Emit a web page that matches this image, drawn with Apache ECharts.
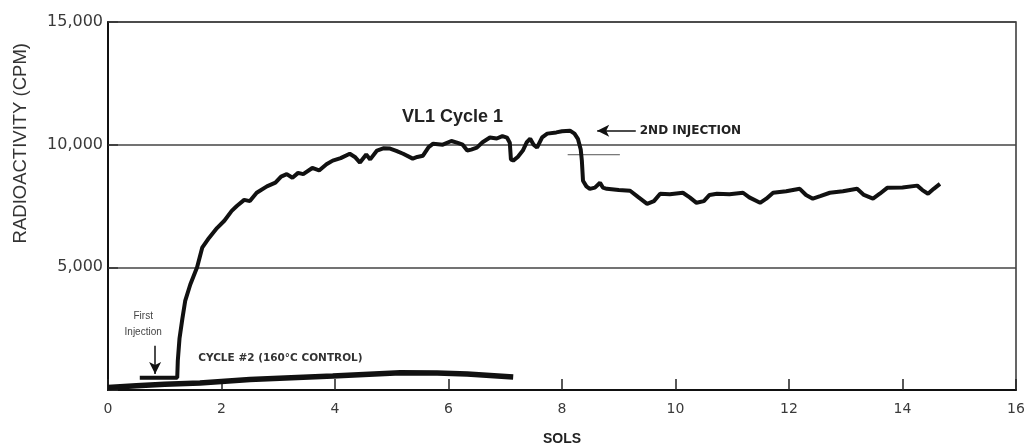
<!DOCTYPE html>
<html>
<head>
<meta charset="utf-8">
<script src="https://cdn.jsdelivr.net/npm/echarts@6/dist/echarts.min.js"></script>
<style>html,body{margin:0;padding:0;background:#fff}#c{width:1031px;height:446px}</style>
</head>
<body>
<div id="c"></div>
<script>
// ---- data (sols, counts per minute) ----
const cycle1Sols = [0.56,1.22,1.23,1.26,1.31,1.36,1.45,1.57,1.66,1.78,1.92,2.05,2.18,2.27,2.4,2.5,2.62,2.8,2.95,3.05,3.15,3.25,3.35,3.44,3.6,3.72,3.85,3.96,4.1,4.26,4.35,4.44,4.55,4.62,4.74,4.85,4.97,5.08,5.2,5.37,5.45,5.55,5.65,5.73,5.9,6.05,6.15,6.25,6.33,6.4,6.5,6.6,6.73,6.85,6.95,7.03,7.08,7.1,7.14,7.22,7.31,7.38,7.44,7.5,7.56,7.65,7.74,7.9,8.0,8.14,8.22,8.28,8.33,8.35,8.37,8.43,8.49,8.58,8.67,8.72,8.79,9.0,9.2,9.35,9.5,9.62,9.73,9.9,10.13,10.25,10.37,10.5,10.6,10.73,10.95,11.19,11.3,11.49,11.6,11.72,11.95,12.19,12.3,12.42,12.55,12.72,12.95,13.2,13.32,13.48,13.6,13.73,14.0,14.26,14.35,14.45,14.55,14.66];
const cycle1Cpm  = [500,500,1200,2100,2900,3630,4300,5000,5800,6200,6600,6900,7300,7500,7750,7700,8040,8300,8450,8700,8800,8650,8850,8800,9050,8950,9200,9350,9450,9630,9500,9270,9600,9400,9760,9850,9840,9750,9630,9430,9500,9550,9900,10040,10000,10150,10080,10000,9760,9800,9880,10100,10290,10250,10350,10290,10080,9400,9350,9500,9760,10100,10240,10000,9880,10300,10450,10500,10550,10570,10450,10240,9800,9350,8530,8300,8200,8250,8450,8250,8200,8150,8120,7850,7590,7700,8000,7980,8040,7850,7630,7700,7950,8000,7980,8040,7850,7630,7800,8040,8100,8200,7950,7800,7900,8040,8100,8200,7950,7800,8000,8240,8250,8330,8150,8000,8200,8400];

const cycle2Sols = [0,0.5,1.0,1.62,2.5,3.96,5.15,5.8,6.33,7.14];
const cycle2Cpm  = [100,170,230,290,430,570,700,690,650,530];

const marker2Sols = [8.1,9.02];
const marker2Cpm  = [9590,9590];

const yTicks = [0,5000,10000,15000];
const xTicks = [0,2,4,6,8,10,12,14,16];

const zip = (a,b) => a.map((v,i)=>[v,b[i]]);

const chart = echarts.init(document.getElementById('c'), null, {renderer:'canvas'});
const lbl = {fontFamily:'DejaVu Sans', color:'#3a3a3a'};
chart.setOption({
  animation:false,
  backgroundColor:'#fff',
  title:{text:'VL1 Cycle 1', left:397, top:103,
    textStyle:{fontFamily:'Liberation Sans', fontWeight:'bold', fontSize:18, color:'#222'}},
  graphic:[{type:'text', left:11, top:43, rotation:Math.PI/2,
    style:{text:'RADIOACTIVITY (CPM)', fontFamily:'Liberation Sans', fontSize:18.5, fill:'#333'}}],
  grid:{left:108, right:15, top:22, bottom:56, show:true, borderColor:'#333', borderWidth:1.5,
    containLabel:false, outerBoundsMode:'none'},
  xAxis:{type:'value', min:xTicks[0], max:xTicks[xTicks.length-1], interval:2,
    name:'SOLS', nameLocation:'middle', nameGap:42,
    nameTextStyle:{fontFamily:'Liberation Sans', fontWeight:'bold', fontSize:14, color:'#222'},
    axisLine:{lineStyle:{color:'#111', width:2}},
    axisTick:{inside:true, length:11, lineStyle:{color:'#222', width:1.5}},
    axisLabel:Object.assign({fontSize:14, margin:12}, lbl),
    splitLine:{show:false}},
  yAxis:{type:'value', min:yTicks[0], max:yTicks[yTicks.length-1], interval:5000,
    axisLine:{show:true, lineStyle:{color:'#111', width:2}},
    axisTick:{show:true, inside:true, length:10, lineStyle:{color:'#333', width:1.5}},
    axisLabel:Object.assign({fontSize:16, margin:5,
      formatter:v => v===0 ? '' : v.toLocaleString('en-US')}, lbl),
    splitLine:{show:true, lineStyle:{color:'#444', width:1.5}}},
  series:[
    {name:'VL1 Cycle 1', type:'line', data:zip(cycle1Sols,cycle1Cpm), showSymbol:false,
     lineStyle:{color:'#111', width:4}, z:5,
     markLine:{silent:true, symbol:['none','arrow'], symbolSize:[9,12],
       lineStyle:{color:'#111', width:1.5, type:'solid'}, label:{show:false},
       data:[
         [{coord:[0.83,1800]},{coord:[0.83,650]}],
         [{coord:[9.3,10570]},{coord:[8.62,10570]}]
       ]},
     markPoint:{symbol:'circle', symbolSize:0, silent:true,
       data:[
         {coord:[9.37,10570], label:{show:true, position:'right', distance:0, formatter:'2ND INJECTION',
           fontFamily:'DejaVu Sans', fontWeight:'bold', fontSize:12, color:'#222'}},
         {coord:[1.59,1300], label:{show:true, position:'right', distance:0, formatter:'CYCLE #2 (160°C CONTROL)',
           fontFamily:'DejaVu Sans', fontWeight:'bold', fontSize:10.5, color:'#333'}},
         {coord:[0.62,2700], label:{show:true, position:'inside', formatter:'First\nInjection', lineHeight:16,
           fontFamily:'Liberation Sans', fontSize:10, color:'#444', align:'center'}}
       ]}},
    {name:'Cycle 2 (160°C control)', type:'line', data:zip(cycle2Sols,cycle2Cpm), showSymbol:false,
     lineStyle:{color:'#111', width:5.5}, z:4},
    {name:'2nd injection level', type:'line', data:zip(marker2Sols,marker2Cpm), showSymbol:false,
     lineStyle:{color:'#555', width:1}, z:3}
  ]
});
</script>
</body>
</html>
